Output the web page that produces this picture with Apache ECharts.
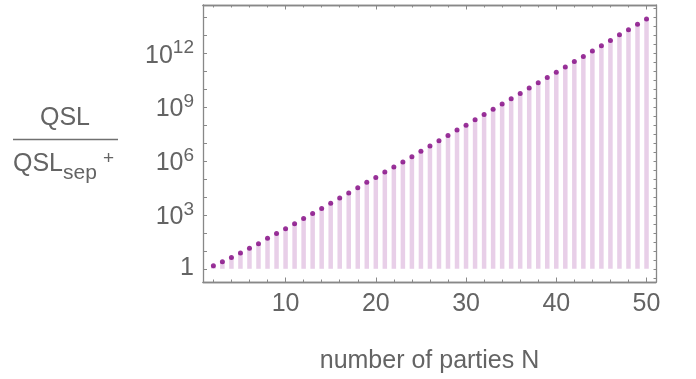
<!DOCTYPE html>
<html>
<head>
<meta charset="utf-8">
<script src="https://cdn.jsdelivr.net/npm/echarts@6/dist/echarts.min.js"></script>
<style>
html, body { margin: 0; padding: 0; background: #fff; }
#main { width: 696px; height: 379px; }
</style>
</head>
<body>
<div id="main"></div>
<script>
// 数据：党派数 N 与 QSL / QSL_sep+ 的比值
var parties = [2, 3, 4, 5, 6, 7, 8, 9, 10, 11, 12, 13, 14, 15, 16, 17, 18, 19, 20, 21, 22, 23, 24, 25, 26,
	27, 28, 29, 30, 31, 32, 33, 34, 35, 36, 37, 38, 39, 40, 41, 42, 43, 44, 45, 46, 47, 48, 49, 50];
var ratio = [1.47, 2.45, 4.27, 7.59, 13.8, 25.1, 50.1, 93.3, 170, 324, 631, 1200, 2240, 4470, 8710,
	1.66e4, 3.24e4, 6.46e4, 1.20e5, 2.40e5, 4.68e5, 8.91e5, 1.74e6, 3.47e6, 6.76e6, 1.35e7, 2.63e7,
	5.25e7, 9.77e7, 1.95e8, 3.89e8, 7.59e8, 1.48e9, 2.95e9, 5.75e9, 1.15e10, 2.24e10, 4.47e10, 8.71e10,
	1.70e11, 3.39e11, 6.61e11, 1.32e12, 2.57e12, 5.13e12, 1.05e13, 2.04e13, 4.07e13, 7.94e13];

// 刻度
var xLabels = [10, 20, 30, 40, 50];
var xMinorTicks = [2, 4, 6, 8, 12, 14, 16, 18, 22, 24, 26, 28, 32, 34, 36, 38, 42, 44, 46, 48];
var yLabels = [1, 1e3, 1e6, 1e9, 1e12];
var yTicks = [1, 1e1, 1e2, 1e3, 1e4, 1e5, 1e6, 1e7, 1e8, 1e9, 1e10, 1e11, 1e12, 1e13, 1e14];
var yRightTicks = [0.316, 1, 3.16, 1e1, 31.6, 1e2, 316, 1e3, 3.16e3, 1e4, 3.16e4, 1e5, 3.16e5, 1e6, 3.16e6,
	1e7, 3.16e7, 1e8, 3.16e8, 1e9, 3.16e9, 1e10, 3.16e10, 1e11, 3.16e11, 1e12, 3.16e12, 1e13, 3.16e13,
	1e14, 3.16e14];

var points = parties.map(function (n, i) { return [n, ratio[i]]; });

var FONT = 'Liberation Sans, Arial, Helvetica, sans-serif';
var TEXT = '#646464';
var FRAME = '#888888';
var xMin = 0.85, xMax = 51.05;
var yMin = 0.184, yMax = 4.79e14;

function xAxisOf(pos, ticks, len, labels) {
	return {
		type: 'value', position: pos, min: xMin, max: xMax,
		axisLine: { show: true, onZero: false, lineStyle: { color: FRAME, width: 1.3 } },
		axisTick: { show: true, inside: true, length: len, customValues: ticks, lineStyle: { color: FRAME, width: 1 } },
		axisLabel: labels ? {
			show: true, customValues: labels, margin: 10,
			fontSize: 25, color: TEXT, fontFamily: FONT
		} : { show: false },
		splitLine: { show: false }
	};
}

var myChart = echarts.init(document.getElementById('main'));

var bottomMain = xAxisOf('bottom', xLabels, 4.5, xLabels);
bottomMain.name = 'number of parties N';
bottomMain.nameLocation = 'middle';
bottomMain.nameGap = 67;
bottomMain.nameTextStyle = { fontSize: 25, color: TEXT, fontFamily: FONT };

var option = {
	backgroundColor: '#ffffff',
	animation: false,
	grid: { left: 203, top: 5, width: 453, height: 279, containLabel: false },
	xAxis: [
		bottomMain,
		xAxisOf('bottom', xMinorTicks, 2.5, null),
		xAxisOf('top', xLabels, 4.5, null),
		xAxisOf('top', xMinorTicks, 2.5, null)
	],
	yAxis: [{
		type: 'log', logBase: 10, position: 'left', min: yMin, max: yMax,
		axisLine: { show: true, onZero: false, lineStyle: { color: FRAME, width: 1.3 } },
		axisTick: { show: true, inside: true, length: 4, customValues: yTicks, lineStyle: { color: FRAME, width: 1 } },
		axisLabel: {
			show: true, customValues: yLabels, margin: 9, fontFamily: FONT,
			formatter: function (v) {
				var e = Math.round(Math.log10(v));
				return e === 0 ? '{b|1}' : '{h| }{b|10}{s|' + e + '}';
			},
			rich: {
				b: { fontSize: 25, color: TEXT, fontFamily: FONT, lineHeight: 24, verticalAlign: 'bottom' },
				s: { fontSize: 19, color: TEXT, fontFamily: FONT, lineHeight: 23, verticalAlign: 'top' },
				h: { fontSize: 1, lineHeight: 30 }
			}
		},
		splitLine: { show: false }
	}, {
		type: 'log', logBase: 10, position: 'right', min: yMin, max: yMax,
		axisLine: { show: true, onZero: false, lineStyle: { color: FRAME, width: 1.3 } },
		axisTick: { show: true, inside: true, length: 2.5, customValues: yRightTicks, lineStyle: { color: FRAME, width: 1 } },
		axisLabel: { show: false },
		splitLine: { show: false }
	}],
	series: [{
		// 浅紫色填充柱（从 1 开始）
		type: 'bar',
		xAxisIndex: 0, yAxisIndex: 0,
		data: points,
		barWidth: 4.5,
		itemStyle: { color: '#e8cfe8' },
		silent: true,
		z: 1
	}, {
		type: 'scatter',
		xAxisIndex: 0, yAxisIndex: 0,
		data: points,
		symbol: 'circle',
		symbolSize: 5,
		itemStyle: { color: '#800080' },
		z: 3
	}],
	graphic: [
		// 纵轴标题：QSL / QSL_sep^+
		{ type: 'text', left: 40, top: 106, style: { text: 'QSL', fontSize: 25, fill: TEXT, fontFamily: FONT } },
		{ type: 'line', shape: { x1: 13, y1: 139.5, x2: 118, y2: 139.5 }, style: { stroke: '#707070', lineWidth: 1.5 } },
		{ type: 'text', left: 13, top: 152, style: { text: 'QSL', fontSize: 25, fill: TEXT, fontFamily: FONT } },
		{ type: 'text', left: 63, top: 163, style: { text: 'sep', fontSize: 21, fill: TEXT, fontFamily: FONT } },
		{ type: 'text', left: 103, top: 149, style: { text: '+', fontSize: 19, fill: TEXT, fontFamily: FONT } }
	]
};

myChart.setOption(option);
</script>
</body>
</html>
